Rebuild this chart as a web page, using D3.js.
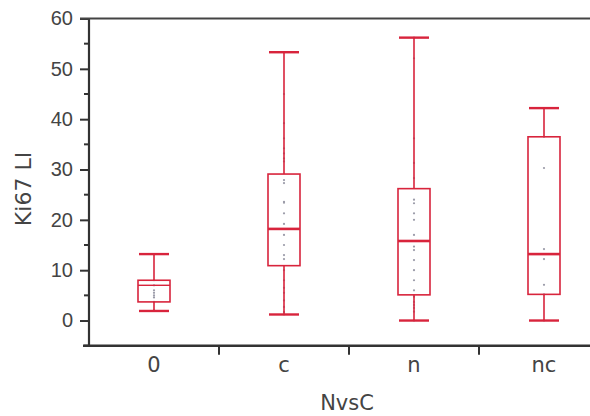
<!DOCTYPE html>
<html>
<head>
<meta charset="utf-8">
<script src="https://cdn.jsdelivr.net/npm/d3@7.9.0/dist/d3.min.js"></script>
<style>
  body { margin: 0; background: #fff; }
  svg { display: block; font-family: "DejaVu Sans", Verdana, sans-serif; }
  .tick text { fill: #444; }
</style>
</head>
<body>
<svg width="590" height="416"></svg>
<script>
// groups and their box statistics
const groups = ['0', 'c', 'n', 'nc'];
const whiskerLow = [1.9, 1.2, 0, 0];
const q1 = [3.7, 10.9, 5.1, 5.2];
const median = [7.0, 18.2, 15.8, 13.2];
const q3 = [8.0, 29.1, 26.2, 36.5];
const whiskerHigh = [13.2, 53.3, 56.2, 42.2];
// individual observations (faint grey dots)
const points = [
  [2, 3.7, 4.6, 5.0, 5.5, 6.0, 7.0, 8.0, 13.2],
  [1.2, 1.7, 2.7, 4, 5.5, 6.5, 8, 10, 12.2, 13, 15, 17, 19.2, 21.3, 23.4, 23.6, 27.3, 27.9,
   31.6, 32.2, 33.2, 34.2, 36.2, 39.2, 45, 53.3],
  [0, 1.75, 2.5, 3.1, 3.7, 4.7, 6, 8, 10, 12, 14, 14.7, 17, 20, 21.3, 23.3, 24,
   28.3, 31.3, 36.2, 52.1, 56.2],
  [0, 5.2, 7.1, 12.2, 14.2, 30.3, 36.5, 42.2]
];
const yTicks = [0, 10, 20, 30, 40, 50, 60];
const yMinor = [-5, 5, 15, 25, 35, 45, 55];

const red = '#d8243c';
const svg = d3.select('svg');
const plotLeft = 89, plotTop = 18.5, plotBottom = 345.7;

let y = d3.scaleLinear().domain([-5, 60]).range([plotBottom, plotTop]);
let x = d3.scaleBand().domain(groups).range([plotLeft, 609]);

// y axis
svg.append('g')
  .attr('transform', `translate(${plotLeft},0)`)
  .call(d3.axisLeft(y).tickValues(yTicks).tickSize(9).tickPadding(7).tickFormat(d3.format('d')))
  .call(g => g.select('.domain').remove())
  .call(g => g.selectAll('.tick line').attr('stroke', '#333').attr('stroke-width', 2))
  .call(g => g.selectAll('.tick text').attr('font-size', 20));

svg.append('g')
  .attr('transform', `translate(${plotLeft},0)`)
  .selectAll('line')
  .data(yMinor)
  .join('line')
  .attr('x1', -5).attr('x2', 0)
  .attr('y1', d => y(d)).attr('y2', d => y(d))
  .attr('stroke', '#333').attr('stroke-width', 2);

// frame: left, top, bottom
svg.append('line').attr('x1', plotLeft).attr('x2', plotLeft).attr('y1', plotTop).attr('y2', plotBottom + 1)
  .attr('stroke', '#333').attr('stroke-width', 2.2);
svg.append('line').attr('x1', plotLeft - 9).attr('x2', 620).attr('y1', plotTop).attr('y2', plotTop)
  .attr('stroke', '#444').attr('stroke-width', 2);
svg.append('line').attr('x1', plotLeft - 6).attr('x2', 620).attr('y1', plotBottom).attr('y2', plotBottom)
  .attr('stroke', '#333').attr('stroke-width', 2.4);

// x separators between categories
svg.append('g')
  .selectAll('line')
  .data(groups.slice(1))
  .join('line')
  .attr('x1', d => x(d)).attr('x2', d => x(d))
  .attr('y1', plotBottom).attr('y2', plotBottom + 9)
  .attr('stroke', '#333').attr('stroke-width', 2);

// x labels
svg.append('g')
  .selectAll('text')
  .data(groups)
  .join('text')
  .attr('x', d => x(d) + x.bandwidth() / 2)
  .attr('y', 372)
  .attr('text-anchor', 'middle')
  .attr('font-size', 21)
  .attr('fill', '#444')
  .text(d => d);

svg.append('text')
  .attr('x', 347).attr('y', 410)
  .attr('text-anchor', 'middle')
  .attr('font-size', 21)
  .attr('fill', '#444')
  .text('NvsC');

svg.append('text')
  .attr('transform', 'translate(31,189) rotate(-90)')
  .attr('text-anchor', 'middle')
  .attr('font-size', 22)
  .attr('fill', '#444')
  .text('Ki67 LI');

// boxes
const boxW = 32, capW = 30;
groups.forEach((g, i) => {
  const cx = x(g) + x.bandwidth() / 2;
  const grp = svg.append('g');
  // dots
  grp.selectAll('circle')
    .data(points[i])
    .join('circle')
    .attr('cx', cx).attr('cy', d => y(d)).attr('r', 1.1)
    .attr('fill', '#9a9aa8');
  // whiskers
  grp.append('line').attr('x1', cx).attr('x2', cx)
    .attr('y1', y(whiskerHigh[i])).attr('y2', y(q3[i]))
    .attr('stroke', red).attr('stroke-width', 1.6);
  grp.append('line').attr('x1', cx).attr('x2', cx)
    .attr('y1', y(q1[i])).attr('y2', y(whiskerLow[i]))
    .attr('stroke', red).attr('stroke-width', 1.6);
  [whiskerHigh[i], whiskerLow[i]].forEach(v => {
    grp.append('line').attr('x1', cx - capW / 2).attr('x2', cx + capW / 2)
      .attr('y1', y(v)).attr('y2', y(v))
      .attr('stroke', red).attr('stroke-width', 2.4);
  });
  grp.append('rect')
    .attr('x', cx - boxW / 2).attr('width', boxW)
    .attr('y', y(q3[i])).attr('height', y(q1[i]) - y(q3[i]))
    .attr('fill', 'none').attr('stroke', red).attr('stroke-width', 1.6);
  grp.append('line').attr('x1', cx - boxW / 2).attr('x2', cx + boxW / 2)
    .attr('y1', y(median[i])).attr('y2', y(median[i]))
    .attr('stroke', red).attr('stroke-width', i === 0 ? 1.4 : 2.6);
});
</script>
</body>
</html>
